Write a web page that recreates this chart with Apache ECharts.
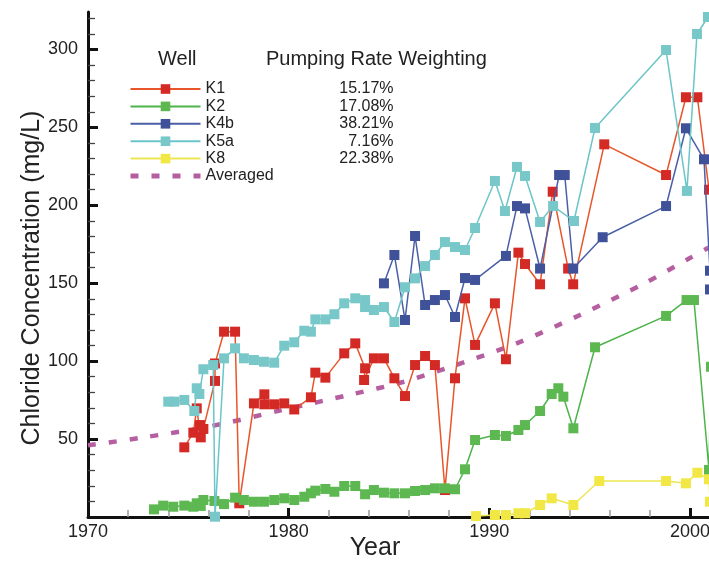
<!DOCTYPE html>
<html><head><meta charset="utf-8">
<script src="https://cdn.jsdelivr.net/npm/echarts@6/dist/echarts.min.js"></script>
<style>html,body{margin:0;padding:0;background:#fff}#c{width:709px;height:561px}</style>
</head><body><div id="c"></div>
<script>
// ---- data ----
const xMajorTicks = [1970, 1980, 1990, 2000];
const xMinorTicks = [1972, 1974, 1976, 1978, 1982, 1984, 1986, 1988, 1992, 1994, 1996, 1998];
const yMajorTicks = [0, 50, 100, 150, 200, 250, 300];
const yMinorTicks = [10,20,30,40,60,70,80,90,110,120,130,140,160,170,180,190,210,220,230,240,260,270,280,290,310,320];

const wellNames = ['K1', 'K2', 'K4b', 'K5a', 'K8', 'Averaged'];
const weightings = ['15.17%', '17.08%', '38.21%', '7.16%', '22.38%', ''];

const k1Years = [1974.80, 1975.25, 1975.42, 1975.62, 1975.58, 1975.75, 1976.33, 1976.33, 1976.78, 1977.33, 1977.54, 1978.27, 1978.79, 1978.79, 1979.28, 1979.78, 1980.28, 1981.11, 1981.33, 1981.83, 1982.77, 1983.32, 1983.81, 1983.76, 1984.25, 1984.75, 1985.27, 1985.80, 1986.30, 1986.80, 1987.29, 1987.79, 1988.29, 1988.79, 1989.29, 1990.28, 1990.83, 1991.45, 1991.78, 1992.53, 1993.16, 1993.93, 1994.18, 1995.73, 1998.81, 1999.80, 2000.37, 2000.95];
const k1Values = [44.7, 54.1, 69.7, 51.1, 59.0, 56.5, 87.3, 98.5, 118.9, 118.9, 8.8, 72.9, 78.7, 72.3, 72.3, 72.9, 69.0, 76.8, 92.6, 89.4, 105.0, 111.4, 95.4, 87.9, 101.8, 101.8, 89.0, 77.6, 97.5, 103.3, 97.5, 17.3, 89.0, 140.3, 110.4, 137.1, 101.2, 169.6, 162.3, 149.3, 208.7, 159.4, 149.3, 239.1, 219.4, 269.3, 269.3, 210.0];

const k2Years = [1973.29, 1973.75, 1974.25, 1974.80, 1975.25, 1975.42, 1975.62, 1975.75, 1976.30, 1976.78, 1977.33, 1977.77, 1978.27, 1978.77, 1979.28, 1979.78, 1980.28, 1980.78, 1981.11, 1981.33, 1981.83, 1982.28, 1982.77, 1983.32, 1983.81, 1984.25, 1984.75, 1985.27, 1985.80, 1986.30, 1986.80, 1987.29, 1987.79, 1988.29, 1988.79, 1989.29, 1990.28, 1990.83, 1991.45, 1991.78, 1992.53, 1993.11, 1993.44, 1993.69, 1994.19, 1995.27, 1998.81, 1999.83, 2000.20, 2000.95, 2001.05];
const k2Values = [4.9, 7.3, 6.6, 7.3, 6.6, 8.8, 7.1, 10.9, 10.3, 8.3, 12.4, 10.9, 9.8, 9.8, 10.9, 12.0, 10.9, 13.0, 15.2, 16.9, 18.0, 16.2, 19.9, 19.9, 14.6, 17.3, 15.6, 15.2, 15.2, 16.7, 17.3, 18.4, 18.4, 17.8, 30.6, 49.4, 52.6, 52.0, 55.8, 59.0, 68.0, 78.9, 82.6, 77.2, 56.9, 108.9, 129.0, 139.2, 139.2, 30.2, 96.4];

const k4bYears = [1984.75, 1985.27, 1985.80, 1986.30, 1986.80, 1987.29, 1987.79, 1988.29, 1988.79, 1989.29, 1990.83, 1991.38, 1991.78, 1992.53, 1993.48, 1993.76, 1994.18, 1995.65, 1998.81, 1999.80, 2000.70, 2001.0, 2001.0];
const k4bValues = [149.9, 168.1, 126.4, 180.3, 136.0, 139.2, 142.4, 128.3, 153.3, 152.1, 167.5, 199.5, 198.0, 159.4, 219.4, 219.4, 159.4, 179.5, 199.5, 249.4, 229.5, 158.0, 146.0];

const k5aYears = [1974.00, 1974.30, 1974.80, 1975.30, 1975.42, 1975.55, 1975.75, 1976.24, 1976.33, 1976.78, 1977.33, 1977.77, 1978.27, 1978.77, 1979.28, 1979.78, 1980.28, 1980.78, 1981.11, 1981.33, 1981.83, 1982.28, 1982.77, 1983.32, 1983.81, 1983.81, 1984.25, 1984.75, 1985.27, 1985.80, 1986.30, 1986.80, 1987.29, 1987.79, 1988.29, 1988.79, 1989.29, 1990.28, 1990.78, 1991.38, 1991.78, 1992.53, 1993.18, 1994.22, 1995.27, 1998.81, 1999.85, 2000.35, 2000.90];
const k5aValues = [74.0, 74.0, 75.1, 68.0, 82.6, 78.9, 94.8, 97.5, 0.2, 101.8, 108.2, 101.8, 100.7, 99.6, 99.0, 109.9, 112.1, 119.5, 118.9, 126.8, 126.8, 130.1, 137.1, 140.3, 139.2, 134.7, 132.8, 134.7, 125.1, 147.4, 153.1, 161.0, 168.1, 176.4, 173.2, 171.3, 185.4, 215.6, 196.3, 224.6, 218.8, 189.3, 199.5, 189.9, 249.6, 299.6, 209.2, 309.9, 320.8];

const k8Years = [1989.34, 1990.28, 1990.83, 1991.45, 1991.78, 1992.53, 1993.11, 1994.19, 1995.48, 1998.81, 1999.80, 2000.37, 2000.95, 2001.0];
const k8Values = [0.6, 1.3, 1.3, 2.4, 2.4, 7.7, 12.0, 7.7, 23.1, 23.1, 21.6, 28.4, 24.2, 9.8];

const avgYears = [1970.0, 1972.59, 1976.18, 1979.67, 1983.21, 1985.70, 1987.89, 1991.28, 1994.52, 1997.76, 1999.91, 2000.90, 2001.5];
const avgValues = [46.0, 50.7, 58.4, 68.6, 78.9, 86.6, 95.6, 111.0, 129.6, 150.1, 165.5, 172.6, 176.0];

// ---- chart ----
const FONT = 'Liberation Sans, Arial, Helvetica, sans-serif';
const X_MAX = 2000.95, Y_MAX = 324;
function pairs(xs, ys) { return xs.map((x, i) => [x, ys[i]]); }

const lineColors = ['#E8552A', '#4DB34A', '#4A5FA8', '#6CC5C8', '#EDE654'];
const markColors = ['#D42A26', '#5DB852', '#3F5299', '#79C8C9', '#F1E846'];
const avgColor = '#B65FA0';
const seriesData = [pairs(k1Years, k1Values), pairs(k2Years, k2Values), pairs(k4bYears, k4bValues), pairs(k5aYears, k5aValues), pairs(k8Years, k8Values)];

const series = seriesData.map((d, i) => ({
  name: wellNames[i], type: 'line', data: d, xAxisIndex: 0, yAxisIndex: 0, clip: false,
  symbol: 'rect', symbolSize: 10, showAllSymbol: true,
  lineStyle: { color: lineColors[i], width: 1.5 },
  itemStyle: { color: markColors[i] },
  emphasis: { disabled: true }, animation: false, z: 2 + i
}));
series.push({
  name: 'Averaged', type: 'line', data: pairs(avgYears, avgValues), symbol: 'none', smooth: 0.3, clip: false,
  lineStyle: { color: avgColor, width: 4.5, type: [8, 13], cap: 'butt' },
  itemStyle: { color: avgColor }, emphasis: { disabled: true }, animation: false, z: 1
});

const pctMap = {}; wellNames.forEach((n, i) => pctMap[n] = weightings[i]);
const legendData = wellNames.map(n => n === 'Averaged'
  ? { name: n, itemStyle: { opacity: 0 }, lineStyle: { width: 5 } }
  : { name: n });

const chart = echarts.init(document.getElementById('c'), null, { renderer: 'canvas' });
chart.setOption({
  animation: false,
  backgroundColor: '#fff',
  textStyle: { fontFamily: FONT },
  grid: { left: 88, right: 0, top: 12, bottom: 44, containLabel: false, outerBoundsMode: 'none' },
  xAxis: [
    { type: 'value', min: 1970, max: X_MAX, interval: 10,
      axisLine: { show: true, onZero: false, lineStyle: { color: '#111', width: 3 } },
      axisTick: { show: true, inside: true, length: 9, lineStyle: { color: '#111', width: 3 }, customValues: xMajorTicks },
      axisLabel: { show: true, customValues: xMajorTicks, fontSize: 18, color: '#222', margin: 6, fontFamily: FONT,
        formatter: v => (v % 10 === 0 ? String(v) : '') },
      splitLine: { show: false } },
    { type: 'value', min: 1970, max: X_MAX, interval: 2, position: 'bottom',
      axisLine: { show: false },
      axisTick: { show: true, inside: true, length: 7, lineStyle: { color: '#999', width: 1.5 }, customValues: xMinorTicks },
      axisLabel: { show: false }, splitLine: { show: false } }
  ],
  yAxis: [
    { type: 'value', min: 0, max: Y_MAX, interval: 50,
      axisLine: { show: true, onZero: false, lineStyle: { color: '#111', width: 3 } },
      axisTick: { show: true, inside: true, length: 10, lineStyle: { color: '#111', width: 3 }, customValues: yMajorTicks },
      axisLabel: { show: true, customValues: yMajorTicks.filter(v => v > 0), fontSize: 18, color: '#222', margin: 10, fontFamily: FONT,
        formatter: v => (v % 50 === 0 && v > 0 ? String(v) : '') },
      splitLine: { show: false } },
    { type: 'value', min: 0, max: Y_MAX, interval: 10, position: 'left',
      axisLine: { show: false },
      axisTick: { show: true, inside: true, length: 7, lineStyle: { color: '#444', width: 1.3 }, customValues: yMinorTicks },
      axisLabel: { show: false }, splitLine: { show: false } }
  ],
  legend: {
    show: true, orient: 'vertical', left: 128, top: 81, itemGap: 1.4, padding: 0,
    itemWidth: 70, itemHeight: 12, selectedMode: false,
    data: legendData,
    formatter: name => '{n|' + name + '}{p|' + pctMap[name] + '}',
    textStyle: { fontFamily: FONT, fontSize: 16, color: '#222',
      rich: { n: { width: 95, fontSize: 16, lineHeight: 17.5, fontFamily: FONT, color: '#222' },
              p: { width: 93, align: 'right', fontSize: 16, lineHeight: 17.5, fontFamily: FONT, color: '#222' } } }
  },
  graphic: [
    { type: 'text', left: 158, top: 49, style: { text: 'Well', font: '20px ' + FONT, fill: '#222' } },
    { type: 'text', left: 266, top: 49, style: { text: 'Pumping Rate Weighting', font: '20px ' + FONT, fill: '#222' } },
    { type: 'text', x: 32, y: 278, rotation: Math.PI / 2,
      style: { text: 'Chloride Concentration (mg/L)', font: '25px ' + FONT, fill: '#222', align: 'center', verticalAlign: 'middle' } },
    { type: 'text', x: 375, y: 548,
      style: { text: 'Year', font: '25px ' + FONT, fill: '#222', align: 'center', verticalAlign: 'middle' } }
  ],
  series: series
});
</script>
</body></html>
